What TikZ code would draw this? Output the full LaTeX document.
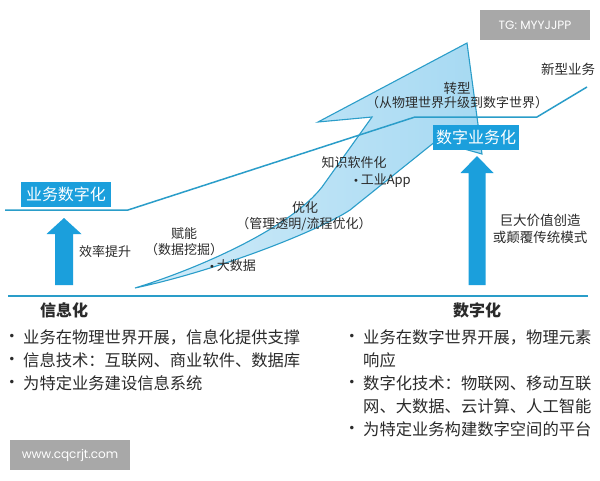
\documentclass[tikz,border=0pt]{standalone}
\usepackage{fontspec}
\setmainfont{Noto Sans CJK SC}
\newfontfamily\wmfont{Poppins}
\newfontfamily\bulletfont{DejaVu Sans}
\definecolor{boxblue}{HTML}{1B9FDC}
\definecolor{lineblue}{HTML}{2A9DC9}
\definecolor{bandfill}{HTML}{A6D9F2}
\definecolor{bandlight}{HTML}{D2ECF9}
\definecolor{txt}{HTML}{2B2B2B}
\definecolor{wmgray}{HTML}{A8A8A8}
\begin{document}
\begin{tikzpicture}[x=1pt,y=-1pt,
  lbl/.style={inner sep=0pt, text=txt, font=\fontsize{13}{13}\selectfont},
  lblb/.style={inner sep=0pt, text=txt, font=\fontsize{13.5}{13.5}\selectfont},
  item/.style={inner sep=0pt, anchor=west, text=txt, font=\fontsize{16.3}{16.3}\selectfont},
  bul/.style={inner sep=0pt, text=txt, font=\bulletfont\fontsize{12}{12}\selectfont},
  headtxt/.style={inner sep=0pt, text=txt, font=\fontsize{16}{16}\selectfont\bfseries},
  bluebox/.style={fill=boxblue, text=white, inner sep=0pt, minimum height=25pt, font=\fontsize{16}{16}\selectfont},
  blueline/.style={draw=lineblue, line width=1.5pt},
  wm/.style={fill=wmgray, text=white, inner sep=0pt, font=\wmfont\fontsize{12}{12}\selectfont}
]
\useasboundingbox (0,0) rectangle (600,480);
\fill[white] (0,0) rectangle (600,480);

% big zigzag arrow
\draw[draw=lineblue, line width=1.1pt, line join=miter, left color=bandlight, right color=bandfill]
  (135,288) .. controls (200,268) and (290,228) .. (322,187) -- (372,117) -- (318,122)
  -- (467,43) -- (482,154) -- (436,141) -- (350,210)
  .. controls (320,230) and (220,270) .. (135,288) -- cycle;

% business line
\draw[blueline] (5,210) -- (128,210) -- (415,117) -- (537,117) -- (587,87);
% base line
\draw[blueline] (8,296) -- (588,296);

% up arrows
\fill[boxblue] (55,285) -- (55,234) -- (46.5,234) -- (64,218) -- (81.5,234) -- (73,234) -- (73,285) -- cycle;
\fill[boxblue] (468.5,285) -- (468.5,173) -- (460.5,173) -- (477,156) -- (493.5,173) -- (485.5,173) -- (485.5,285) -- cycle;

% boxes
\node[bluebox, minimum width=90pt] (bizdig) at (66,194.5) {业务数字化};
\node[bluebox, minimum width=86pt] (digbiz) at (476,137.5) {数字业务化};

% labels
\node[lbl] (xiaolv) at (105,252) {效率提升};
\node[lbl] (funeng) at (184,234) {赋能};
\node[lbl] (wajue) at (184,250) {（数据挖掘）};
\node[lbl, anchor=west] (dashuju) at (209,266) {{\bulletfont\fontsize{10}{10}\selectfont •\,}大数据};
\node[lbl] (youhua) at (305,208) {优化};
\node[lbl] (guanli) at (304,224) {（管理透明/流程优化）};
\node[lbl] (zhishi) at (354,163) {知识软件化};
\node[lbl, anchor=west] (gongye) at (353,181) {{\bulletfont\fontsize{10}{10}\selectfont •\,}工业App};
\node[lblb] (zhuanxing) at (457,88) {转型};
\node[lbl] (congwuli) at (457,103) {（从物理世界升级到数字世界）};
\node[lblb] (xinxing) at (568,69) {新型业务};
\node[lblb] (judajia) at (540,220) {巨大价值创造};
\node[lblb] (dianfu) at (540,237) {或颠覆传统模式};

% headings
\node[headtxt] (xinxihua) at (64,310) {信息化};
\node[headtxt] (shuzihua) at (477,310) {数字化};

% left list
\node[bul] (lb1) at (12,337.5) {•};
\node[item] (l1) at (23,337.5) {业务在物理世界开展，信息化提供支撑};
\node[bul] (lb2) at (12,360.5) {•};
\node[item] (l2) at (23,360.5) {信息技术：互联网、商业软件、数据库};
\node[bul] (lb3) at (12,383.5) {•};
\node[item] (l3) at (23,383.5) {为特定业务建设信息系统};

% right list
\node[bul] (rb1) at (352,337.5) {•};
\node[item] (r1) at (363,337.5) {业务在数字世界开展，物理元素};
\node[item] (r1b) at (363,360.5) {响应};
\node[bul] (rb2) at (352,383.5) {•};
\node[item] (r2) at (363,383.5) {数字化技术：物联网、移动互联};
\node[item] (r2b) at (363,406.5) {网、大数据、云计算、人工智能};
\node[bul] (rb3) at (352,429.5) {•};
\node[item] (r3) at (363,429.5) {为特定业务构建数字空间的平台};

% watermarks
\node[wm, minimum width=110pt, minimum height=30pt] (tg) at (535,25) {TG: MYYJJPP};
\node[wm, minimum width=120pt, minimum height=30pt] (www) at (70,455) {www.cqcrjt.com};
\end{tikzpicture}
\end{document}
